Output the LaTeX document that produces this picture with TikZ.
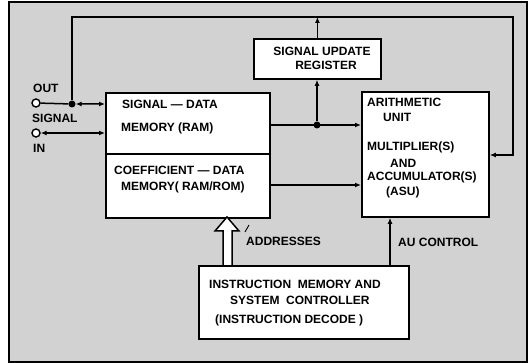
\documentclass[tikz,border=0pt]{standalone}
\usepackage{fontspec}
\setmainfont{Liberation Sans}
\usetikzlibrary{arrows.meta}
\begin{document}
\begin{tikzpicture}[x=1pt,y=-1pt,
  lbl/.style={font=\bfseries\fontsize{12}{13}\selectfont, inner sep=0pt, anchor=west},
  blk/.style={draw, line width=1.8pt, fill=white, inner sep=0pt, anchor=north west},
  wire/.style={line width=1.5pt},
  arr/.style={wire,-{Latex[length=6pt,width=5pt]}},
  darr/.style={wire,{Latex[length=6pt,width=5pt]}-{Latex[length=6pt,width=5pt]}},
  dotn/.style={circle, fill=black, inner sep=0pt, minimum size=7pt},
  term/.style={circle, draw, line width=1.4pt, fill=white, inner sep=0pt, minimum size=8pt}]
\useasboundingbox (0,0) rectangle (528,363);
\filldraw[fill=gray!35, draw=black, line width=1.2pt] (9,2) rectangle (527,362);

% blocks
\node[blk, minimum width=164pt, minimum height=61pt] (sigmem) at (105,92) {};
\node[blk, minimum width=164pt, minimum height=64pt] (coefmem) at (105,153) {};
\node[blk, minimum width=127pt, minimum height=40pt] (sur) at (253,38) {};
\node[blk, minimum width=127pt, minimum height=125pt] (alu) at (361,91) {};
\node[blk, minimum width=210pt, minimum height=73pt] (ins) at (198,265) {};

% texts
\node[lbl] (tout) at (33,88) {OUT};
\node[lbl] (tsig) at (32,118) {SIGNAL};
\node[lbl] (tin) at (33,148) {IN};
\node[lbl] (m1) at (122,104) {SIGNAL --- DATA};
\node[lbl] (m2) at (121,128) {MEMORY (RAM)};
\node[lbl] (m3) at (114,170) {COEFFICIENT --- DATA};
\node[lbl] (m4) at (121,187) {MEMORY( RAM/ROM)};
\node[lbl, anchor=center] (s1) at (322,51) {SIGNAL UPDATE};
\node[lbl, anchor=center] (s2) at (326,65) {REGISTER};
\node[lbl] (a1) at (367,102) {ARITHMETIC};
\node[lbl] (a2) at (383,117) {UNIT};
\node[lbl] (a3) at (367,147) {MULTIPLIER(S)};
\node[lbl] (a4) at (390,163) {AND};
\node[lbl] (a5) at (367,177) {ACCUMULATOR(S)};
\node[lbl] (a6) at (386,192) {(ASU)};
\node[lbl] (i1) at (209,284) {INSTRUCTION~~MEMORY AND};
\node[lbl] (i2) at (230,300) {SYSTEM~~CONTROLLER};
\node[lbl] (i3) at (215,320) {(INSTRUCTION DECODE )};
\node[lbl] (addr) at (246,241) {ADDRESSES};
\node[lbl] (auc) at (398,242) {AU CONTROL};

% terminals and junctions
\node[term] (tOut) at (36,103) {};
\node[term] (tIn) at (36,133) {};
\node[dotn] (dL) at (72,104) {};
\node[dotn] (dR) at (317,125) {};
\coordinate (tl) at (72,17);
\coordinate (tr) at (513,17);
\coordinate (rb) at (513,155);
\coordinate (c1) at (269,185);
\coordinate (au) at (390,265);

% connectors
\draw[darr] (tOut) -- (dL) -- (dL -| sigmem.west);
\draw[darr] (tIn) -- (tIn -| sigmem.west);
\draw[arr] (dL) -- (tl) -- (tr) -- (rb) -- (rb -| alu.east);
\draw[arr] (sur.north) -- (sur.north |- tl);
\draw[arr] (dR) -- (dR |- sur.south);
\draw[arr] (dR -| sigmem.east) -- (dR -| alu.west);
\draw[arr] (c1) -- (c1 -| alu.west);
\draw[arr] (au) -- (au |- alu.south);
\draw[wire, fill=white, line join=miter] (223,265) -- (223,231) -- (215,231) -- (227,217) -- (239,231) -- (232,231) -- (232,265);
\draw[line width=0.9pt] (245,232) -- (249,225);
\end{tikzpicture}
\end{document}
